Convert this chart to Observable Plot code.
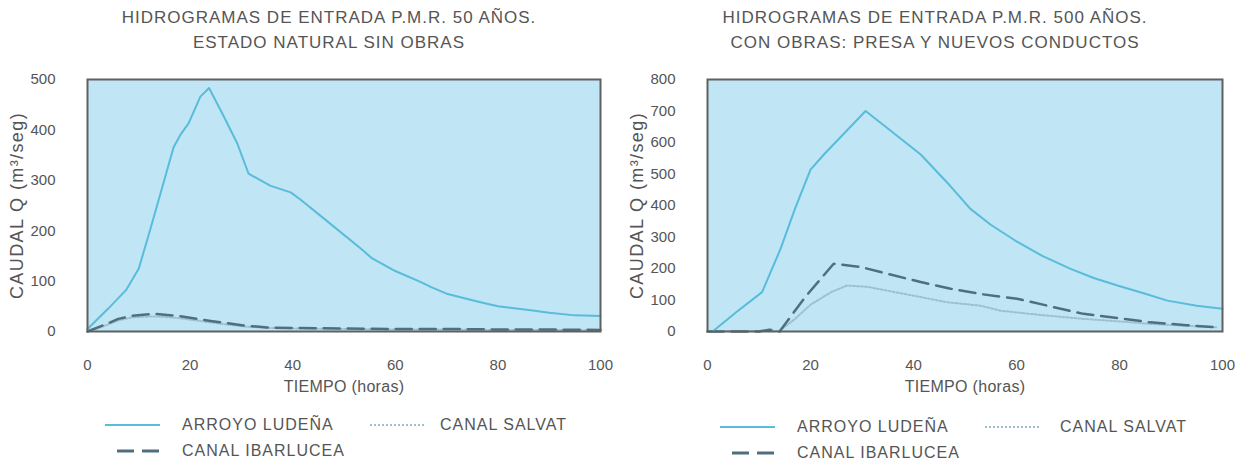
<!DOCTYPE html>
<html>
<head>
<meta charset="utf-8">
<script src="https://cdn.jsdelivr.net/npm/d3@7"></script>
<script src="https://cdn.jsdelivr.net/npm/@observablehq/plot@0.6"></script>
<style>
  html, body { margin: 0; padding: 0; background: #fff; }
  #root { position: relative; width: 1252px; height: 465px; overflow: hidden; font-family: "Liberation Sans", Arial, sans-serif; color: #555; }
  .title { position: absolute; text-align: center; font-size: 17px; letter-spacing: 1px; line-height: 25px; white-space: nowrap; transform: translateX(-50%); }
  .panel { position: absolute; top: 60px; }
  .leg { position: absolute; font-size: 16px; letter-spacing: 1px; white-space: nowrap; line-height: 18px; }
  .sw { position: absolute; }
  g[aria-label="y-axis label"] text { font-size: 18px; letter-spacing: 1.4px; }
  g[aria-label="x-axis label"] text { font-size: 16px; letter-spacing: 0.3px; }
</style>
</head>
<body>
<div id="root"></div>
<script>
// ---------- DATA ----------
const xTicks = [0, 20, 40, 60, 80, 100];
const yTicks50 = [0, 100, 200, 300, 400, 500];
const yTicks500 = [0, 100, 200, 300, 400, 500, 600, 700, 800];

const titles50 = ["HIDROGRAMAS DE ENTRADA P.M.R. 50 AÑOS.", "ESTADO NATURAL SIN OBRAS"];
const titles500 = ["HIDROGRAMAS DE ENTRADA P.M.R. 500 AÑOS.", "CON OBRAS: PRESA Y NUEVOS CONDUCTOS"];
const seriesNames = ["ARROYO LUDEÑA", "CANAL SALVAT", "CANAL IBARLUCEA"];

// 50 años – estado natural
const t50Ludena = [0, 4, 7.5, 10, 12.3, 14.2, 16.8, 18.1, 19.7, 22, 23.7, 26.6, 29.2, 31.4, 35.7, 39.6, 41.5, 46.7, 53.2, 55.5, 60, 65, 67, 70, 76.6, 80, 86.4, 90, 95, 100];
const q50Ludena = [5, 45, 82, 125, 205, 273, 366, 390, 413, 466, 483, 426, 373, 313, 289, 276, 262, 219, 165, 145, 120, 98, 88, 75, 58, 50, 42, 37, 32, 31];
const t50Ibarlucea = [0, 3, 6, 8.7, 12.9, 17.5, 24, 30.4, 35, 40, 50, 60, 70, 80, 90, 100];
const q50Ibarlucea = [0, 12, 25, 31, 35, 31, 21, 12, 8, 7, 6, 5, 5, 4, 4, 3];
const t50Salvat = [0, 3, 6, 8.7, 12.9, 17.5, 24, 30.4, 35, 40, 50, 60, 70, 80, 90, 100];
const q50Salvat = [0, 10, 22, 28, 30, 27, 18, 10, 7, 6, 5, 4, 4, 3, 3, 2];

// 500 años – con obras
const t500Ludena = [1, 5.5, 10.6, 14.2, 17, 20, 22.6, 26, 30.7, 36, 41.4, 47.2, 51, 55, 60.1, 65, 70.5, 75, 79.6, 85, 89.3, 95, 100];
const q500Ludena = [0, 60, 125, 263, 390, 514, 562, 620, 700, 632, 562, 461, 390, 339, 285, 240, 199, 170, 146, 120, 98, 82, 72];
const t500Ibarlucea = [0, 10, 12, 14, 19, 24.5, 29.7, 35, 41.4, 47.2, 53, 60.1, 66, 73, 80, 86, 93, 99];
const q500Ibarlucea = [0, 0, 6, 0, 110, 215, 205, 183, 157, 136, 119, 104, 82, 56, 42, 29, 20, 13];
const t500Salvat = [0, 14, 17, 20, 24, 27.1, 31, 38, 46.5, 53, 56.9, 65, 73, 80, 86, 93, 99];
const q500Salvat = [0, 2, 40, 85, 125, 146, 142, 120, 93, 82, 66, 52, 40, 32, 24, 18, 13];

// ---------- STYLE ----------
const BG = "#c0e5f4";
const C_LUDENA = "#58bcda";
const C_IBAR = "#4f6f7f";
const C_SALVAT = "#9cc0cc";
const FRAME = "#606060";

function rows(t, q) { return t.map((d, i) => ({t: d, q: q[i]})); }

function panel({width, marginRight, yMax, yTicks, lud, ibar, salv}) {
  return Plot.plot({
    width, height: 335,
    marginLeft: 87, marginRight, marginTop: 19, marginBottom: 64,
    x: {domain: [0, 100]},
    y: {domain: [0, yMax]},
    style: {fontFamily: "'Liberation Sans', Arial, sans-serif", fontSize: "15px", color: "#555", background: "transparent", overflow: "visible"},
    marks: [
      Plot.frame({fill: BG}),
      Plot.line(salv, {x: "t", y: "q", stroke: C_SALVAT, strokeWidth: 2, strokeDasharray: "2,2"}),
      Plot.line(ibar, {x: "t", y: "q", stroke: C_IBAR, strokeWidth: 2.5, strokeDasharray: "16,8"}),
      Plot.line(lud, {x: "t", y: "q", stroke: C_LUDENA, strokeWidth: 2}),
      Plot.frame({stroke: FRAME, strokeWidth: 2}),
      Plot.axisX({ticks: xTicks, tickSize: 0, tickPadding: 28, label: "TIEMPO (horas)", labelAnchor: "center", labelOffset: 60, labelArrow: "none", fontSize: 15}),
      Plot.axisY({ticks: yTicks, tickSize: 0, tickPadding: 32, label: "CAUDAL Q (m³/seg)", labelAnchor: "center", labelOffset: 77, labelArrow: "none", fontSize: 15})
    ]
  });
}

const root = document.getElementById("root");

function addTitle(lines, cx) {
  const d = document.createElement("div");
  d.className = "title";
  d.style.left = cx + "px";
  d.style.top = "5px";
  d.innerHTML = lines.join("<br>");
  root.appendChild(d);
}

function swatch(x, y, w, stroke, width, dash) {
  const ns = "http://www.w3.org/2000/svg";
  const s = document.createElementNS(ns, "svg");
  s.setAttribute("width", w); s.setAttribute("height", 6);
  s.setAttribute("class", "sw");
  s.style.left = x + "px"; s.style.top = (y - 3) + "px";
  s.style.position = "absolute";
  const l = document.createElementNS(ns, "line");
  l.setAttribute("x1", 0); l.setAttribute("x2", w); l.setAttribute("y1", 3); l.setAttribute("y2", 3);
  l.setAttribute("stroke", stroke); l.setAttribute("stroke-width", width);
  if (dash) l.setAttribute("stroke-dasharray", dash);
  s.appendChild(l);
  root.appendChild(s);
}
function legText(x, y, txt) {
  const d = document.createElement("div");
  d.className = "leg";
  d.style.left = x + "px"; d.style.top = (y - 9) + "px";
  d.textContent = txt;
  root.appendChild(d);
}

// Left panel
addTitle(titles50, 329);
const p1 = panel({width: 620, marginRight: 20, yMax: 500, yTicks: yTicks50,
  lud: rows(t50Ludena, q50Ludena), ibar: rows(t50Ibarlucea, q50Ibarlucea), salv: rows(t50Salvat, q50Salvat)});
p1.classList.add("panel"); p1.style.left = "0px";
root.appendChild(p1);

// Right panel
addTitle(titles500, 935);
const p2 = panel({width: 632, marginRight: 30, yMax: 800, yTicks: yTicks500,
  lud: rows(t500Ludena, q500Ludena), ibar: rows(t500Ibarlucea, q500Ibarlucea), salv: rows(t500Salvat, q500Salvat)});
p2.classList.add("panel"); p2.style.left = "620px";
root.appendChild(p2);

// Legends
function legend(x0, yRow1, yRow2, xSalvSw, xSalvTxt) {
  swatch(x0, yRow1, 55, C_LUDENA, 2, null);
  legText(x0 + 77, yRow1, seriesNames[0]);
  swatch(xSalvSw, yRow1, 55, C_SALVAT, 2, "2,2");
  legText(xSalvTxt, yRow1, seriesNames[1]);
  swatch(x0 + 12, yRow2, 45, C_IBAR, 3, "17,8");
  legText(x0 + 77, yRow2, seriesNames[2]);
}
legend(105, 425, 451, 370, 440);
legend(720, 427, 453, 985, 1060);
</script>
</body>
</html>
